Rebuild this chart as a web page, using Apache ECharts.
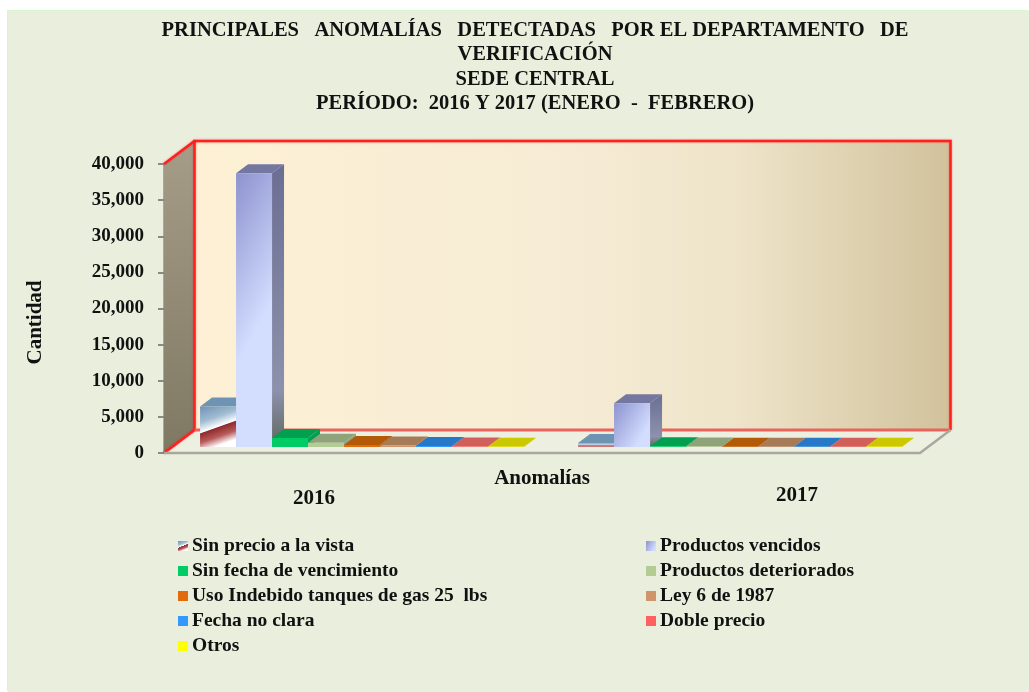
<!DOCTYPE html>
<html>
<head>
<meta charset="utf-8">
<title>Anomalías</title>
<style>
	html, body { margin: 0; padding: 0; background: #fff; }
	#main { position: absolute; left: 8px; top: 11px; width: 1021px; height: 681px; box-shadow: -1px -1px 0 #d6f6ce; }
</style>
<script src="https://cdn.jsdelivr.net/npm/echarts@6/dist/echarts.min.js"></script>
</head>
<body>
<div id="main"></div>
<script>
var years = ['2016', '2017'];
var yTicks = { min: 0, max: 40000, interval: 5000 };

// valores
var sinPrecio = [5600, 550];
var vencidos = [37900, 6050];
var sinFecha = [1250, 120];
var deteriorados = [600, 60];
var tanques = [260, 50];
var ley6 = [200, 40];
var fechaNoClara = [130, 40];
var doblePrecio = [80, 30];
var otros = [50, 20];

var names = ['Sin precio a la vista', 'Productos vencidos', 'Sin fecha de vencimiento', 'Productos deteriorados',
	'Uso Indebido tanques de gas 25  lbs', 'Ley 6 de 1987', 'Fecha no clara', 'Doble precio', 'Otros'];
var values = [sinPrecio, vencidos, sinFecha, deteriorados, tanques, ley6, fechaNoClara, doblePrecio, otros];

var FONT = '"Liberation Serif", serif';
var WALL_DX = 30.5, WALL_DY = 23;   // profundidad de la caja 3D
var BAR_DX = 12, BAR_DY = 9;        // profundidad de cada barra
var BAR_SHIFT_X = 9, BAR_SHIFT_Y = 6;
var BAR_RATIO = 0.0952;             // ancho de barra / ancho de categoria

function linear(x, y, x2, y2, stops) {
	return new echarts.graphic.LinearGradient(x, y, x2, y2, stops.map(function (s) {
		return { offset: s[0], color: s[1] };
	}));
}

var metalStops = [[0, '#6f93b5'], [0.35, '#a0bcd2'], [0.58, '#ffffff'], [0.6, '#8e2a2e'], [0.8, '#b85a5a'], [1, '#ffffff']];
var violetStops = [[0, '#8d92cf'], [1, '#d3deff']];
var frontColors = [
	linear(0, 0, 0.4, 1, metalStops),
	linear(0, 0, 1, 0.5, violetStops),
	'#00cc66', '#b3cc94', '#e36c0a', '#cf9467', '#3399ff', '#ff6060', '#ffff00'
];
// excepciones: la barra alta de 2016 en diagonal, la baja de 2017 casi plana
var tallVioletFront = linear(0, 0, 2.3, 0.167, violetStops);
var flatMetalFront = linear(0, 0, 0, 1, [[0, '#8fb0cc'], [0.5, '#c8d8e4'], [0.7, '#b84a4a'], [1, '#e09090']]);
var topColors = ['#6f93b2', '#74779f', '#00a050', '#8fa27a', '#b35a08', '#a67c58', '#2878c8', '#d2605a', '#cbc800'];
var sideColors = [
	'#5a7a96',
	linear(0, 0, 0, 1, [[0, '#6a6e94'], [0.8, '#8c92ac'], [1, '#5e6660']]),
	'#00a050', '#8fa27a', '#b35a08', '#a67c58', '#2878c8', '#d2605a', '#cbc800'
];

function poly(points, fill) {
	return { type: 'polygon', silent: true, shape: { points: points }, style: { fill: fill } };
}

function renderBox(params, api) {
	var c = params.coordSys;
	var l = c.x, r = c.x + c.width, t = c.y, b = c.y + c.height;
	var dx = WALL_DX, dy = WALL_DY;
	var red = { stroke: '#ff2020', lineWidth: 2.5, fill: 'none', shadowBlur: 2, shadowColor: 'rgba(255, 0, 0, .5)' };
	return {
		type: 'group',
		silent: true,
		children: [
			{ type: 'rect', shape: { x: l + dx, y: t - dy, width: c.width, height: c.height },
				style: { fill: linear(0, 0, 1, 0, [[0, '#fdf0d5'], [0.5, '#f6ecd5'], [0.72, '#eee4c9'], [1, '#d1c29c']]) } },
			poly([[l, t], [l + dx, t - dy], [l + dx, b - dy], [l, b]], linear(0, 0, 0.3, 1, [[0, '#a69d88'], [1, '#7f7862']])),
			poly([[l, b], [l + dx, b - dy], [r + dx, b - dy], [r, b]], '#edf0e1'),
			{ type: 'polyline', shape: { points: [[l + dx, b - dy], [l + dx, t - dy], [r + dx, t - dy], [r + dx, b - dy]] }, style: red },
			{ type: 'polyline', shape: { points: [[l + dx, b - dy], [r + dx, b - dy]] }, style: { stroke: '#e8645c', lineWidth: 3, fill: 'none' } },
			{ type: 'polyline', shape: { points: [[l, t], [l + dx, t - dy]] }, style: red },
			{ type: 'polyline', shape: { points: [[l, b], [l + dx, b - dy]] }, style: red },
			{ type: 'polyline', shape: { points: [[l, b], [r, b], [r + dx, b - dy]] }, style: { stroke: '#a8a8a0', lineWidth: 2.5, fill: 'none' } }
		]
	};
}

function renderBar3d(params, api) {
	var i = params.seriesIndex - 1;
	var band = api.size([1, 0])[0];
	var w = band * BAR_RATIO;
	var base = api.coord([api.value(0), 0]);
	var head = api.coord([api.value(0), api.value(1)]);
	var x0 = base[0] + BAR_SHIFT_X + (i - 4.5) * w;
	var x1 = x0 + w;
	var y0 = base[1] - BAR_SHIFT_Y;
	var y1 = head[1] - BAR_SHIFT_Y;
	var dx = BAR_DX, dy = BAR_DY;
	var front = frontColors[i];
	if (i === 1 && params.dataIndex === 0) front = tallVioletFront;
	if (i === 0 && params.dataIndex === 1) front = flatMetalFront;
	return {
		type: 'group',
		children: [
			poly([[x1, y1], [x1 + dx, y1 - dy], [x1 + dx, y0 - dy], [x1, y0]], sideColors[i]),
			poly([[x0, y1], [x0 + dx, y1 - dy], [x1 + dx, y1 - dy], [x1, y1]], topColors[i]),
			{ type: 'rect', silent: true, shape: { x: x0, y: y1, width: w, height: y0 - y1 }, style: { fill: front } }
		]
	};
}

var series = [{
	type: 'custom',
	silent: true,
	renderItem: renderBox,
	data: [[0, 0]],
	encode: { x: 0, y: 1 },
	z: 1
}];
names.forEach(function (name, i) {
	series.push({
		name: name,
		type: 'custom',
		renderItem: renderBar3d,
		itemStyle: { color: frontColors[i] },
		encode: { x: 0, y: 1 },
		data: values[i].map(function (v, k) { return [k, v]; }),
		z: 2
	});
});

function legendAt(left, items) {
	return {
		orient: 'vertical',
		left: left,
		top: 520,
		itemWidth: 10,
		itemHeight: 10,
		itemGap: 5,
		icon: 'rect',
		data: items,
		selectedMode: false,
		textStyle: { fontFamily: FONT, fontWeight: 'bold', fontSize: 19.5, color: '#111', padding: [0, 0, 0, -1], lineHeight: 20 }
	};
}

var chart = echarts.init(document.getElementById('main'));
chart.setOption({
	backgroundColor: '#eaeedd',
	animation: false,
	title: {
		text: 'PRINCIPALES   ANOMALÍAS   DETECTADAS   POR EL DEPARTAMENTO   DE\nVERIFICACIÓN\nSEDE CENTRAL\nPERÍODO:  2016 Y 2017 (ENERO  -  FEBRERO)',
		left: 522,
		top: 2,
		textAlign: 'center',
		textStyle: { fontFamily: FONT, fontWeight: 'bold', fontSize: 20.5, lineHeight: 24.6, color: '#111' }
	},
	legend: [legendAt(165, [names[0], names[2], names[4], names[6], names[8]]), legendAt(633, [names[1], names[3], names[5], names[7]])],
	grid: { left: 156, top: 153, width: 756, height: 289, outerBoundsMode: 'none' },
	xAxis: {
		type: 'category',
		data: [
			{ value: years[0], textStyle: { padding: [3, 78, 0, 0] } },
			{ value: years[1], textStyle: { padding: [0, 0, 0, 132] } }
		],
		name: 'Anomalías',
		nameLocation: 'middle',
		nameGap: 15,
		nameMoveOverlap: false,
		nameTextStyle: { fontFamily: FONT, fontWeight: 'bold', fontSize: 21, color: '#111' },
		axisLine: { show: false },
		axisTick: { show: false },
		axisLabel: { margin: 32, fontFamily: FONT, fontWeight: 'bold', fontSize: 21, color: '#111' }
	},
	yAxis: {
		type: 'value',
		min: yTicks.min,
		max: yTicks.max,
		interval: yTicks.interval,
		name: 'Cantidad',
		nameLocation: 'middle',
		nameGap: 118,
		nameMoveOverlap: false,
		nameTextStyle: { fontFamily: FONT, fontWeight: 'bold', fontSize: 21, color: '#111', padding: [0, 0, 0, -28] },
		splitLine: { show: false },
		axisLine: { show: true, onZero: false, lineStyle: { color: '#a8a8a0', width: 2 } },
		axisTick: { show: true, length: 6, lineStyle: { color: '#8a8a84', width: 2 } },
		axisLabel: {
			margin: 20,
			padding: [3, 0, 0, 0],
			fontFamily: FONT,
			fontWeight: 'bold',
			fontSize: 19,
			color: '#111',
			formatter: function (v) { return v.toLocaleString('en-US'); }
		}
	},
	series: series
});
</script>
</body>
</html>
